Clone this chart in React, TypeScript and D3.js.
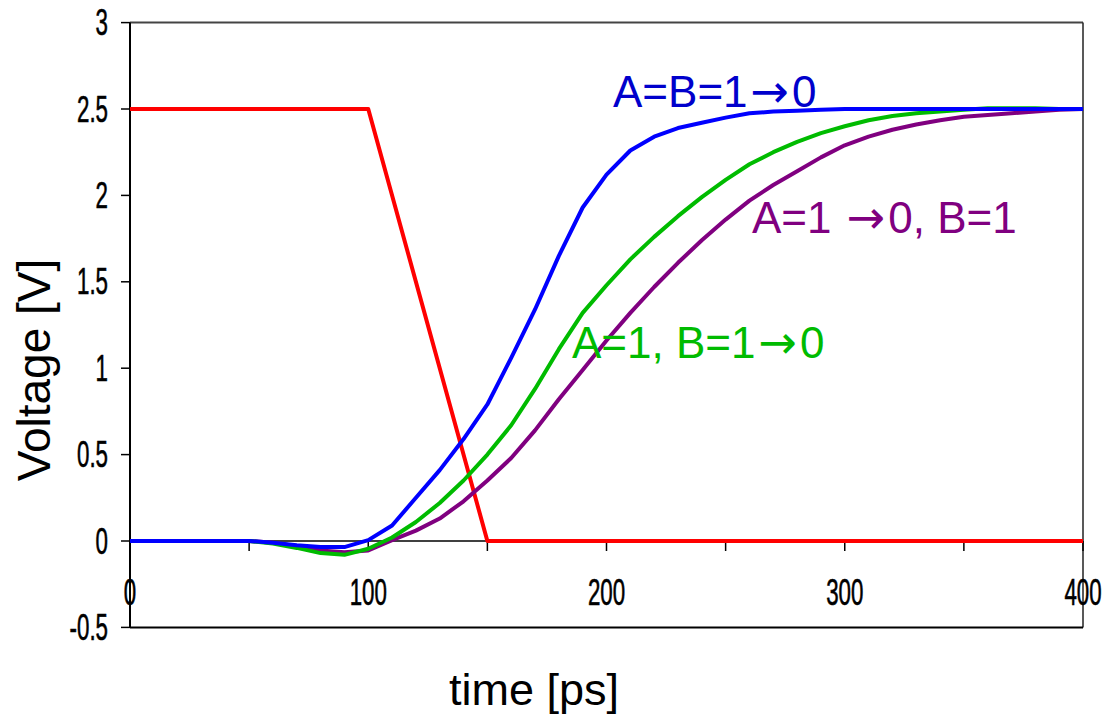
import React from "react";
import * as d3 from "d3";

const times = [0, 10, 20, 30, 40, 50, 60, 70, 80, 90, 100, 110, 120, 130, 140, 150, 160, 170, 180, 190, 200, 210, 220, 230, 240, 250, 260, 270, 280, 290, 300, 310, 320, 330, 340, 350, 360, 370, 380, 390, 400];

const blueAB = [0, 0, 0, 0, 0, 0, -0.01, -0.025, -0.035, -0.035, 0.005, 0.09, 0.25, 0.41, 0.59, 0.79, 1.06, 1.34, 1.65, 1.93, 2.12, 2.26, 2.34, 2.39, 2.42, 2.45, 2.475, 2.485, 2.49, 2.495, 2.5, 2.5, 2.5, 2.5, 2.5, 2.5, 2.5, 2.5, 2.5, 2.5, 2.5];

const greenB = [0, 0, 0, 0, 0, 0, -0.015, -0.04, -0.07, -0.08, -0.045, 0.02, 0.11, 0.22, 0.35, 0.5, 0.67, 0.88, 1.11, 1.32, 1.48, 1.63, 1.76, 1.88, 1.99, 2.09, 2.18, 2.25, 2.31, 2.36, 2.4, 2.435, 2.46, 2.475, 2.485, 2.495, 2.505, 2.505, 2.505, 2.5, 2.5];

const purpleA = [0, 0, 0, 0, 0, 0, -0.01, -0.03, -0.055, -0.065, -0.055, 0.005, 0.06, 0.13, 0.23, 0.35, 0.48, 0.64, 0.82, 0.99, 1.16, 1.32, 1.47, 1.61, 1.74, 1.86, 1.97, 2.06, 2.14, 2.22, 2.29, 2.34, 2.38, 2.41, 2.435, 2.455, 2.465, 2.475, 2.485, 2.495, 2.5];

const inputTimes = [0, 100, 150, 400];
const inputValues = [2.5, 2.5, 0, 0];

const yTicks = [3, 2.5, 2, 1.5, 1, 0.5, 0, -0.5];
const xMinorTicks = [0, 50, 100, 150, 200, 250, 300, 350, 400];
const xLabels = [0, 100, 200, 300, 400];

// label parts: [before arrow, after arrow]
const labelBlue = ["A=B=1", "0"];
const labelGreen = ["A=1, B=1", "0"];
const labelPurple = ["A=1 ", "0, B=1"];
const ARROW = "\u2192";

export default function App() {
  const left = 130, right = 1083, top = 22.6, bottom = 627.4;
  const x = d3.scaleLinear().domain([0, 400]).range([left, right]);
  const y = d3.scaleLinear().domain([-0.5, 3]).range([bottom, top]);
  const y0 = y(0);

  const mk = (ts: number[], vs: number[]) =>
    d3.line<number>().x((_, i) => x(ts[i])).y((v) => y(v))(vs) || "";

  const series = [
    { d: mk(times, purpleA), color: "#800080" },
    { d: mk(times, greenB), color: "#00BB00" },
    { d: mk(times, blueAB), color: "#0000FF" },
  ];

  const narrow = (tx: number, ty: number) => `translate(${tx},${ty}) scale(0.62,1)`;

  const label = (parts: string[], lx: number, ly: number, color: string) => (
    <text x={lx} y={ly} fontSize={44} fill={color}>
      {parts[0]}
      <tspan dx={3} fontFamily="'DejaVu Sans', sans-serif" fontSize={46}>{ARROW}</tspan>
      <tspan dx={3}>{parts[1]}</tspan>
    </text>
  );

  return (
    <svg width={1110} height={719} style={{ position: "fixed", left: 0, top: 0, background: "#fff" }}
      fontFamily="'Liberation Sans', Arial, sans-serif">
      <rect x={0} y={0} width={1110} height={719} fill="#fff" />
      {/* frame */}
      <line x1={left} x2={right} y1={top} y2={top} stroke="#444" strokeWidth={2} />
      <line x1={right} x2={right} y1={top} y2={bottom} stroke="#222" strokeWidth={1.5} />
      <line x1={left} x2={right} y1={bottom} y2={bottom} stroke="#000" strokeWidth={2} />
      <line x1={left} x2={left} y1={top} y2={bottom} stroke="#000" strokeWidth={2} />
      {/* y ticks */}
      {yTicks.map((t) => (
        <g key={"y" + t}>
          <line x1={left - 9} x2={left} y1={y(t)} y2={y(t)} stroke="#000" strokeWidth={1.5} />
          <text transform={narrow(108, y(t))} textAnchor="end" dominantBaseline="central" fontSize={36}
            fill="#000" stroke="#000" strokeWidth={0.6}>
            {String(t)}
          </text>
        </g>
      ))}
      {/* x axis at zero */}
      <line x1={left} x2={right} y1={y0} y2={y0} stroke="#000" strokeWidth={1.5} />
      {xMinorTicks.map((t) => (
        <line key={"xt" + t} x1={x(t)} x2={x(t)} y1={y0} y2={y0 + 10} stroke="#000" strokeWidth={1.5} />
      ))}
      {xLabels.map((t) => (
        <text key={"xl" + t} transform={narrow(x(t), 605)} textAnchor="middle" fontSize={36}
          fill="#000" stroke="#000" strokeWidth={0.6}>
          {String(t)}
        </text>
      ))}
      {/* series */}
      <path d={mk(inputTimes, inputValues)} fill="none" stroke="#FF0000" strokeWidth={4} strokeLinejoin="round" />
      {series.map((s, i) => (
        <path key={i} d={s.d} fill="none" stroke={s.color} strokeWidth={4} strokeLinejoin="round" />
      ))}
      {/* annotations */}
      {label(labelBlue, 613, 107, "#0000CC")}
      {label(labelGreen, 572, 358, "#00BB00")}
      {label(labelPurple, 752, 233, "#800080")}
      {/* axis titles */}
      <text x={534} y={705} textAnchor="middle" fontSize={45} fill="#000">time [ps]</text>
      <text transform={`translate(50,370) rotate(-90)`} textAnchor="middle" fontSize={46} fill="#000">Voltage [V]</text>
    </svg>
  );
}
